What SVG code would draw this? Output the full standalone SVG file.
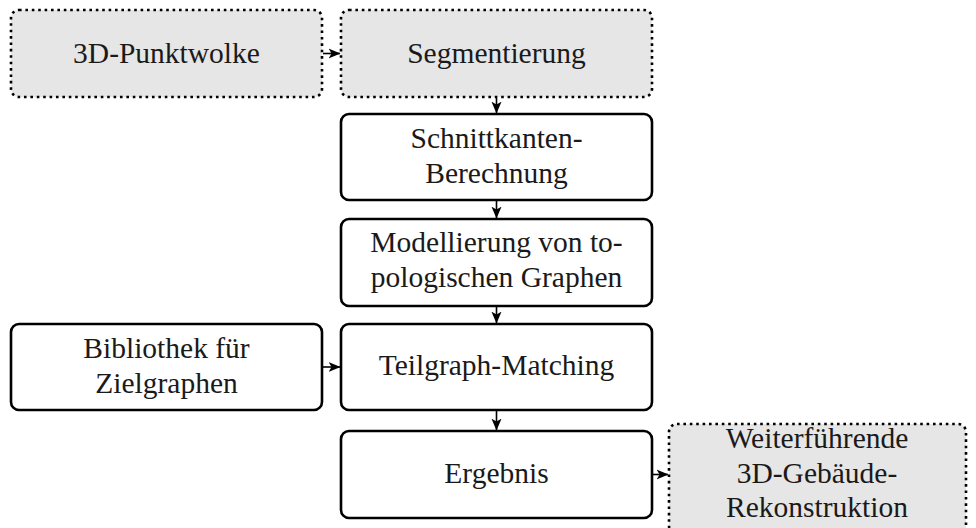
<svg xmlns="http://www.w3.org/2000/svg" width="976" height="528" viewBox="0 0 976 528">
<defs>
<style>
.box{fill:#ffffff;stroke:#000;stroke-width:2.6}
.dot{fill:#e6e6e6;stroke:#000;stroke-width:2.6;stroke-dasharray:2.6 3.8}
.t{font-family:"Liberation Serif","DejaVu Serif",serif;font-size:29.5px;fill:#1a1a1a;text-anchor:middle}
.c{stroke:#000;stroke-width:1.6;fill:none}
</style>
<marker id="ah" viewBox="0 0 10 10" refX="9.5" refY="5" markerWidth="12" markerHeight="12" markerUnits="userSpaceOnUse" orient="auto">
<path d="M0,0.8 L10,5 L0,9.2 L2.5,5 Z" fill="#000"/>
</marker>
</defs>
<rect width="976" height="528" fill="#fff"/>
<g id="n1"><rect class="dot" x="11" y="10" width="311" height="87" rx="8"/><text class="t" x="166.5" y="63">3D-Punktwolke</text></g>
<g id="n2"><rect class="dot" x="341" y="10" width="311" height="87" rx="8"/><text class="t" x="496.5" y="63">Segmentierung</text></g>
<g id="n3"><rect class="box" x="341" y="114" width="311" height="86" rx="8"/><text class="t" x="496.5" y="148">Schnittkanten-</text><text class="t" x="496.5" y="183">Berechnung</text></g>
<g id="n4"><rect class="box" x="341" y="219" width="311" height="87" rx="8"/><text class="t" x="496.5" y="252">Modellierung von to-</text><text class="t" x="496.5" y="287">pologischen Graphen</text></g>
<g id="n5"><rect class="box" x="341" y="324" width="311" height="86" rx="8"/><text class="t" x="496.5" y="375">Teilgraph-Matching</text></g>
<g id="n6"><rect class="box" x="11" y="324" width="311" height="86" rx="8"/><text class="t" x="166.5" y="358">Bibliothek für</text><text class="t" x="166.5" y="393">Zielgraphen</text></g>
<g id="n7"><rect class="box" x="341" y="431" width="311" height="87" rx="8"/><text class="t" x="496.5" y="483">Ergebnis</text></g>
<g id="n8"><rect class="dot" x="669" y="424" width="297" height="110" rx="8"/><text class="t" x="817" y="448">Weiterführende</text><text class="t" x="817" y="483">3D-Gebäude-</text><text class="t" x="817" y="517">Rekonstruktion</text></g>
<g id="connectors">
<line class="c" x1="323" y1="53.5" x2="340" y2="53.5" marker-end="url(#ah)"/>
<line class="c" x1="496.5" y1="98" x2="496.5" y2="113" marker-end="url(#ah)"/>
<line class="c" x1="496.5" y1="201" x2="496.5" y2="218" marker-end="url(#ah)"/>
<line class="c" x1="496.5" y1="307" x2="496.5" y2="323" marker-end="url(#ah)"/>
<line class="c" x1="323" y1="367" x2="340" y2="367" marker-end="url(#ah)"/>
<line class="c" x1="496.5" y1="411" x2="496.5" y2="430" marker-end="url(#ah)"/>
<line class="c" x1="653" y1="474.5" x2="668" y2="474.5" marker-end="url(#ah)"/>
</g>
</svg>
